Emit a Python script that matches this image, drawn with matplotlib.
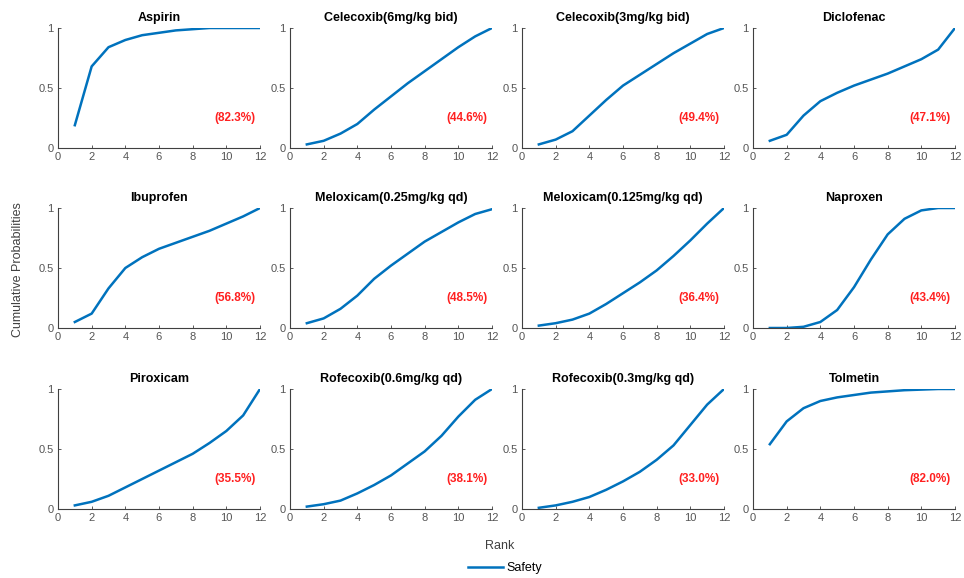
import numpy as np
import matplotlib.pyplot as plt
from matplotlib.lines import Line2D

plt.rcParams.update({'font.family': 'Arial', 'font.size': 8})
plt.rcParams['font.family'] = ['Liberation Sans', 'DejaVu Sans']

rank = np.arange(1, 13)

titles = ['Aspirin', 'Celecoxib(6mg/kg bid)', 'Celecoxib(3mg/kg bid)', 'Diclofenac',
          'Ibuprofen', 'Meloxicam(0.25mg/kg qd)', 'Meloxicam(0.125mg/kg qd)', 'Naproxen',
          'Piroxicam', 'Rofecoxib(0.6mg/kg qd)', 'Rofecoxib(0.3mg/kg qd)', 'Tolmetin']
sucra = ['(82.3%)', '(44.6%)', '(49.4%)', '(47.1%)',
         '(56.8%)', '(48.5%)', '(36.4%)', '(43.4%)',
         '(35.5%)', '(38.1%)', '(33.0%)', '(82.0%)']

aspirin = [0.19, 0.68, 0.84, 0.90, 0.94, 0.96, 0.98, 0.99, 1.0, 1.0, 1.0, 1.0]
celecoxib6 = [0.03, 0.06, 0.12, 0.20, 0.32, 0.43, 0.54, 0.64, 0.74, 0.84, 0.93, 1.0]
celecoxib3 = [0.03, 0.07, 0.14, 0.27, 0.40, 0.52, 0.61, 0.70, 0.79, 0.87, 0.95, 1.0]
diclofenac = [0.06, 0.11, 0.27, 0.39, 0.46, 0.52, 0.57, 0.62, 0.68, 0.74, 0.82, 1.0]
ibuprofen = [0.05, 0.12, 0.33, 0.50, 0.59, 0.66, 0.71, 0.76, 0.81, 0.87, 0.93, 1.0]
meloxicam025 = [0.04, 0.08, 0.16, 0.27, 0.41, 0.52, 0.62, 0.72, 0.80, 0.88, 0.95, 0.99]
meloxicam0125 = [0.02, 0.04, 0.07, 0.12, 0.20, 0.29, 0.38, 0.48, 0.60, 0.73, 0.87, 1.0]
naproxen = [0.0, 0.0, 0.01, 0.05, 0.15, 0.34, 0.57, 0.78, 0.91, 0.98, 1.0, 1.0]
piroxicam = [0.03, 0.06, 0.11, 0.18, 0.25, 0.32, 0.39, 0.46, 0.55, 0.65, 0.78, 1.0]
rofecoxib06 = [0.02, 0.04, 0.07, 0.13, 0.20, 0.28, 0.38, 0.48, 0.61, 0.77, 0.91, 1.0]
rofecoxib03 = [0.01, 0.03, 0.06, 0.10, 0.16, 0.23, 0.31, 0.41, 0.53, 0.70, 0.87, 1.0]
tolmetin = [0.54, 0.73, 0.84, 0.90, 0.93, 0.95, 0.97, 0.98, 0.99, 0.995, 1.0, 1.0]

series = [aspirin, celecoxib6, celecoxib3, diclofenac,
          ibuprofen, meloxicam025, meloxicam0125, naproxen,
          piroxicam, rofecoxib06, rofecoxib03, tolmetin]

blue = '#0072BD'
gray = '#404040'

fig = plt.figure(figsize=(9.64, 5.78), dpi=100)
lefts = [58, 290, 522, 753]
bottoms = [1 - 148/578, 1 - 328/578, 1 - 509/578]
w = 202/964
h = 120/578

for i, (title, y, lab) in enumerate(zip(titles, series, sucra)):
    r, c = divmod(i, 4)
    ax = fig.add_axes([lefts[c]/964, bottoms[r], w, h])
    ax.plot(rank, y, color=blue, lw=1.8)
    ax.set_xlim(0, 12)
    ax.set_ylim(0, 1)
    ax.set_xticks(np.arange(0, 13, 2))
    ax.set_yticks([0, 0.5, 1])
    ax.set_yticklabels(['0', '0.5', '1'])
    ax.spines['top'].set_visible(False)
    ax.spines['right'].set_visible(False)
    for s in ['left', 'bottom']:
        ax.spines[s].set_color(gray)
        ax.spines[s].set_linewidth(0.8)
    ax.tick_params(direction='in', length=2, width=0.6, colors=gray,
                   labelsize=8, labelcolor='#555555', pad=3)
    ax.set_title(title, fontsize=9, fontweight='bold', pad=5)
    ax.text(10.5, 0.25, lab, color='#FF2020', fontsize=8.5, fontweight='bold',
            ha='center', va='center')

fig.text(18/964, 1 - 270/578, 'Cumulative Probabilities', rotation=90,
         ha='center', va='center', fontsize=9, color='#404040')
fig.text(500/964, 1 - 546/578, 'Rank', ha='center', va='center',
         fontsize=9, color='#404040')

handle = Line2D([], [], color=blue, lw=1.8)
fig.legend([handle], ['Safety'], loc='center', bbox_to_anchor=(505/964, 1 - 568/578),
           frameon=False, fontsize=9, handlelength=2.8, handletextpad=0.2)

fig.savefig('out.png', dpi=100)
